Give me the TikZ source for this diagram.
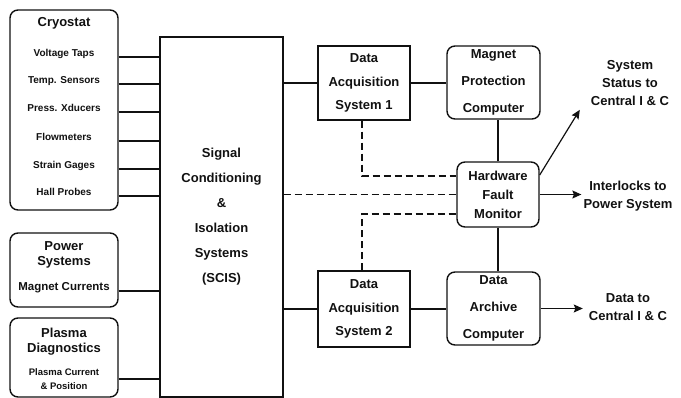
\documentclass[tikz,border=0pt]{standalone}
\usepackage{fontspec}
\setmainfont{Liberation Sans}
\usetikzlibrary{arrows.meta,positioning}
\definecolor{ink}{HTML}{111111}
\newcommand\bxfont[2]{\fontsize{#1}{#2}\selectfont\bfseries}
\tikzset{
  % ---- boxes -----------------------------------------------------
  blk/.style   = {draw=ink, line width=1.4pt, fill=white, align=center,
                  inner sep=0pt, text=ink},
  rblk/.style  = {blk, rounded corners=8pt},
  ttl/.style   = {align=center, inner sep=0pt, text=ink,
                  font=\bxfont{13}{15}},
  itm/.style   = {align=center, inner sep=0pt, text=ink,
                  font=\bxfont{10}{14}},
  outtxt/.style= {align=center, inner sep=2pt, text=ink,
                  font=\bxfont{13}{18}},
  % ---- connectors ------------------------------------------------
  wire/.style  = {draw=ink, line width=1.2pt},
  dwire/.style = {wire, dash pattern=on 7pt off 4pt},
  owire/.style = {wire, -{Stealth[length=9pt, width=8pt, inset=1.5pt]}},
}
\begin{document}
\begin{tikzpicture}[x=1pt, y=-1pt]
\useasboundingbox (0,0) rectangle (681,398);
% left sources
\node[rblk, minimum width=108pt, minimum height=200pt] (cryo) at (64,110) {};
\node[rblk, minimum width=108pt, minimum height=74pt] (pwr) at (64,270) {};
\node[rblk, minimum width=108pt, minimum height=79pt] (pld) at (64,357.5) {};
\node[ttl] (cryot) at (64,23) {Cryostat};
\node[itm, anchor=base] (vt) at (64,57) {Voltage Taps};
\node[itm, anchor=base] (ts) at (64,84) {Temp. Sensors};
\node[itm, anchor=base] (px) at (64,112) {Press. Xducers};
\node[itm, anchor=base] (fm) at (64,141) {Flowmeters};
\node[itm, anchor=base] (sg) at (64,169) {Strain Gages};
\node[itm, anchor=base] (hp) at (64,196) {Hall Probes};
\node[ttl] (pwt) at (64,255) {Power\\Systems};
\node[itm, anchor=base, font=\bxfont{11.5}{14}] (mc) at (64,291) {Magnet Currents};
\node[ttl] (pldt) at (64,341.5) {Plasma\\Diagnostics};
\node[itm, font=\bxfont{9.5}{14}] (pcp) at (64,379) {Plasma Current\\\& Position};
% signal conditioning
\node[blk, minimum width=123pt, minimum height=360pt,
      font=\bxfont{13}{25}] (scis) at (221.5,217)
      {Signal\\Conditioning\\\&\\Isolation\\Systems\\(SCIS)};
% acquisition and computers
\node[blk, minimum width=92pt, minimum height=74pt,
      font=\bxfont{13}{23.5}] (das1) at (364,83) {Data\\Acquisition\\System 1};
\node[blk, minimum width=92pt, minimum height=76pt,
      font=\bxfont{13}{23.5}] (das2) at (364,309) {Data\\Acquisition\\System 2};
\node[rblk, minimum width=93pt, minimum height=73pt,
      font=\bxfont{13}{27}] (mpc) at (493.5,82.5) {Magnet\\Protection\\Computer};
\node[rblk, minimum width=82pt, minimum height=65pt,
      font=\bxfont{13}{19}] (hfm) at (498,194.5) {Hardware\\Fault\\Monitor};
\node[rblk, minimum width=93pt, minimum height=73pt,
      font=\bxfont{13}{27}] (dac) at (493.5,308.5) {Data\\Archive\\Computer};
% outputs
\node[outtxt] (sst) at (630,83) {System\\Status to\\Central I \& C};
\node[outtxt] (ilk) at (628,196) {Interlocks to\\Power System};
\node[outtxt] (dto) at (628,307.5) {Data to\\Central I \& C};
% wiring into the SCIS
\foreach \s in {vt,ts,px,fm,sg,hp,mc}
  \draw[wire] (\s.base -| cryo.east) -- (\s.base -| scis.west);
\draw[wire] (mc.base -| pwr.east) -- (mc.base -| scis.west);
\draw[wire] (pcp -| pld.east) -- (pcp -| scis.west);
\draw[wire] (das1.west -| scis.east) -- (das1.west);
\draw[wire] (das2.west -| scis.east) -- (das2.west);
\draw[wire] (das1.east) -- (das1.east -| mpc.west);
\draw[wire] (das2.east) -- (das2.east -| dac.west);
\draw[wire] (hfm.north) -- (hfm.north |- mpc.south);
\draw[wire] (hfm.south) -- (hfm.south |- dac.north);
% fault monitor links
\draw[dwire] (scis.east |- hfm.west) -- (hfm.west);
\draw[dwire] ([xshift=-2pt]das1.south) |- ([yshift=18.5pt]hfm.west);
\draw[dwire] ([xshift=-2pt]das2.north) |- ([yshift=-19.5pt]hfm.west);
% outgoing arrows
\draw[owire] ([yshift=19.5pt]hfm.east) -- ([xshift=-9pt, yshift=-2pt]sst.south west);
\draw[owire] (hfm.east) -- (hfm.east -| ilk.west);
\draw[owire] (dac.east) -- ([xshift=-4pt]dac.east -| dto.west);
\end{tikzpicture}
\end{document}
